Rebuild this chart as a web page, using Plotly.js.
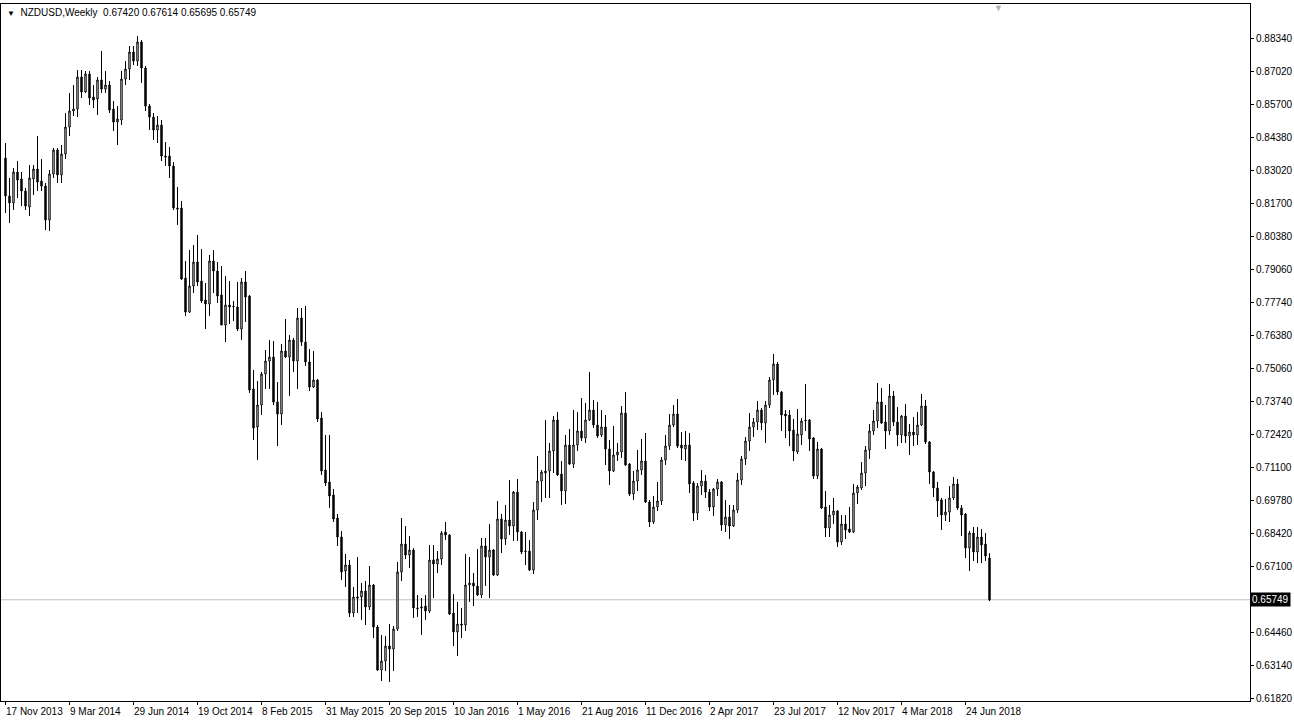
<!DOCTYPE html>
<html>
<head>
<meta charset="utf-8">
<script src="https://cdn.plot.ly/plotly-3.0.1.min.js"></script>
<style>html,body{margin:0;padding:0;background:#fff;}#chart{width:1294px;height:724px;}</style>
</head>
<body>
<div id="chart"></div>
<script>
// Weekly NZDUSD candles, first bar = week of 17 Nov 2013
const symbol = "NZDUSD,Weekly";
const startDate = "2013-11-17";

const openP = [
0.8342,0.8190,0.8162,0.8286,0.8258,0.8210,0.8146,0.8258,0.8298,0.8250,
0.8230,0.8094,0.8278,0.8374,0.8274,0.8358,0.8466,0.8530,0.8538,0.8666,
0.8606,0.8678,0.8586,0.8578,0.8654,0.8618,0.8634,0.8538,0.8486,0.8494,
0.8658,0.8698,0.8766,0.8730,0.8806,0.8702,0.8550,0.8506,0.8454,0.8474,
0.8350,0.8350,0.8310,0.8142,0.8142,0.7862,0.7726,0.7830,0.7926,0.7850,
0.7774,0.7758,0.7930,0.7890,0.7794,0.7674,0.7754,0.7746,0.7746,0.7658,
0.7846,0.7790,0.7418,0.7266,0.7354,0.7478,0.7530,0.7546,0.7366,0.7318,
0.7570,0.7546,0.7614,0.7530,0.7702,0.7606,0.7526,0.7426,0.7454,0.7302,
0.7094,0.7046,0.6994,0.6902,0.6826,0.6690,0.6714,0.6522,0.6586,0.6586,
0.6610,0.6546,0.6634,0.6466,0.6294,0.6330,0.6390,0.6378,0.6458,0.6686,
0.6798,0.6754,0.6774,0.6542,0.6542,0.6550,0.6530,0.6734,0.6718,0.6738,
0.6846,0.6834,0.6522,0.6446,0.6478,0.6474,0.6634,0.6642,0.6630,0.6594,
0.6790,0.6746,0.6774,0.6674,0.6898,0.6818,0.6894,0.6870,0.7006,0.6846,
0.6770,0.6770,0.6694,0.6934,0.7050,0.7082,0.7090,0.7170,0.7294,0.7078,
0.7010,0.7194,0.7118,0.7194,0.7250,0.7222,0.7294,0.7334,0.7274,0.7234,
0.7266,0.7178,0.7090,0.7154,0.7166,0.7322,0.7118,0.6998,0.7050,0.7094,
0.7130,0.6966,0.6886,0.6946,0.6970,0.7134,0.7190,0.7274,0.7318,0.7194,
0.7178,0.7194,0.7042,0.6922,0.7030,0.7050,0.7006,0.6946,0.7018,0.7046,
0.6874,0.6906,0.6870,0.6934,0.7054,0.7138,0.7210,0.7266,0.7286,0.7334,
0.7282,0.7354,0.7454,0.7518,0.7406,0.7318,0.7314,0.7254,0.7166,0.7234,
0.7294,0.7294,0.7222,0.7070,0.7178,0.6946,0.6862,0.6914,0.6930,0.6806,
0.6878,0.6858,0.6846,0.7002,0.7022,0.7082,0.7174,0.7250,0.7290,0.7366,
0.7286,0.7250,0.7390,0.7286,0.7234,0.7310,0.7230,0.7246,0.7234,0.7274,
0.7350,0.7206,0.7086,0.7022,0.6974,0.6914,0.6926,0.6982,0.7038,0.6942,
0.6918,0.6782,0.6842,0.6766,0.6826,0.6798,0.67420];

const highP = [
0.8402,0.8262,0.8302,0.8330,0.8286,0.8222,0.8314,0.8314,0.8430,0.8338,
0.8242,0.8294,0.8382,0.8382,0.8394,0.8522,0.8602,0.8634,0.8694,0.8694,
0.8690,0.8690,0.8634,0.8666,0.8770,0.8690,0.8650,0.8570,0.8550,0.8690,
0.8730,0.8790,0.8790,0.8830,0.8814,0.8710,0.8558,0.8522,0.8510,0.8494,
0.8406,0.8386,0.8326,0.8226,0.8170,0.7930,0.7974,0.7994,0.8034,0.7978,
0.7842,0.7954,0.7974,0.7926,0.7910,0.7870,0.7850,0.7770,0.7846,0.7862,
0.7890,0.7794,0.7494,0.7450,0.7486,0.7574,0.7614,0.7610,0.7446,0.7598,
0.7698,0.7634,0.7622,0.7742,0.7742,0.7750,0.7578,0.7570,0.7458,0.7326,
0.7234,0.7234,0.7018,0.6918,0.6850,0.6758,0.6734,0.6626,0.6746,0.6642,
0.6650,0.6710,0.6638,0.6474,0.6434,0.6430,0.6478,0.6470,0.6726,0.6902,
0.6870,0.6830,0.6782,0.6594,0.6582,0.6594,0.6794,0.6794,0.6770,0.6850,
0.6886,0.6838,0.6598,0.6566,0.6542,0.6758,0.6746,0.6682,0.6778,0.6822,
0.6822,0.6878,0.6778,0.6970,0.6918,0.6954,0.7054,0.7010,0.7058,0.6850,
0.6846,0.6814,0.6966,0.7150,0.7094,0.7294,0.7202,0.7310,0.7326,0.7130,
0.7234,0.7258,0.7334,0.7326,0.7382,0.7362,0.7486,0.7374,0.7366,0.7334,
0.7314,0.7214,0.7270,0.7202,0.7350,0.7406,0.7122,0.7090,0.7174,0.7218,
0.7242,0.6974,0.6990,0.7046,0.7146,0.7234,0.7318,0.7354,0.7378,0.7246,
0.7250,0.7242,0.7050,0.7042,0.7094,0.7074,0.7018,0.7022,0.7058,0.7050,
0.6974,0.6954,0.6954,0.7082,0.7150,0.7226,0.7322,0.7302,0.7370,0.7342,
0.7370,0.7466,0.7558,0.7526,0.7410,0.7334,0.7334,0.7298,0.7338,0.7302,
0.7438,0.7298,0.7226,0.7206,0.7182,0.7010,0.6954,0.6982,0.6934,0.6914,
0.6914,0.6946,0.7038,0.7034,0.7126,0.7190,0.7278,0.7334,0.7442,0.7422,
0.7354,0.7438,0.7410,0.7346,0.7314,0.7358,0.7278,0.7306,0.7326,0.7398,
0.7374,0.7210,0.7090,0.7046,0.6982,0.6978,0.7030,0.7066,0.7058,0.6954,
0.6922,0.6850,0.6866,0.6866,0.6858,0.6842,0.67614];

const lowP = [
0.8122,0.8082,0.8134,0.8182,0.8150,0.8134,0.8110,0.8194,0.8210,0.8210,
0.8054,0.8050,0.8262,0.8242,0.8242,0.8338,0.8430,0.8510,0.8506,0.8582,
0.8602,0.8554,0.8542,0.8514,0.8602,0.8602,0.8522,0.8450,0.8394,0.8474,
0.8634,0.8654,0.8714,0.8710,0.8642,0.8530,0.8454,0.8414,0.8402,0.8330,
0.8310,0.8262,0.8134,0.8074,0.7854,0.7710,0.7722,0.7802,0.7830,0.7762,
0.7658,0.7710,0.7802,0.7762,0.7674,0.7606,0.7678,0.7690,0.7650,0.7614,
0.7686,0.7402,0.7214,0.7134,0.7314,0.7418,0.7418,0.7354,0.7190,0.7274,
0.7542,0.7390,0.7486,0.7418,0.7590,0.7510,0.7410,0.7422,0.7286,0.7074,
0.7030,0.6942,0.6886,0.6790,0.6654,0.6626,0.6506,0.6506,0.6522,0.6494,
0.6474,0.6534,0.6422,0.6290,0.6250,0.6290,0.6246,0.6290,0.6450,0.6650,
0.6738,0.6702,0.6502,0.6506,0.6434,0.6494,0.6522,0.6582,0.6682,0.6714,
0.6814,0.6514,0.6390,0.6350,0.6422,0.6450,0.6566,0.6550,0.6590,0.6582,
0.6630,0.6582,0.6670,0.6670,0.6762,0.6794,0.6834,0.6810,0.6810,0.6758,
0.6714,0.6690,0.6678,0.6894,0.6966,0.6982,0.6982,0.7082,0.7070,0.6954,
0.6958,0.7114,0.7102,0.7170,0.7210,0.7202,0.7290,0.7262,0.7222,0.7226,
0.7114,0.7034,0.7086,0.7130,0.7142,0.7110,0.6990,0.6974,0.7010,0.7074,
0.6962,0.6866,0.6878,0.6930,0.6954,0.7114,0.7174,0.7266,0.7182,0.7134,
0.7130,0.7002,0.6890,0.6894,0.6994,0.6982,0.6930,0.6910,0.6990,0.6850,
0.6846,0.6818,0.6866,0.6922,0.7034,0.7114,0.7170,0.7226,0.7254,0.7254,
0.7202,0.7342,0.7394,0.7394,0.7250,0.7222,0.7190,0.7130,0.7158,0.7194,
0.7250,0.7170,0.7058,0.7058,0.6938,0.6826,0.6826,0.6878,0.6786,0.6794,
0.6818,0.6842,0.6842,0.6958,0.7014,0.7030,0.7138,0.7234,0.7262,0.7278,
0.7178,0.7234,0.7270,0.7190,0.7202,0.7202,0.7154,0.7190,0.7194,0.7270,
0.7198,0.7038,0.6986,0.6906,0.6854,0.6890,0.6886,0.6974,0.6934,0.6830,
0.6742,0.6690,0.6730,0.6722,0.6722,0.6730,0.65695];

const closeP = [
0.8190,0.8162,0.8286,0.8254,0.8210,0.8150,0.8262,0.8298,0.8246,0.8230,
0.8094,0.8278,0.8374,0.8274,0.8358,0.8466,0.8530,0.8538,0.8666,0.8606,
0.8678,0.8582,0.8574,0.8654,0.8618,0.8634,0.8534,0.8486,0.8498,0.8658,
0.8698,0.8766,0.8730,0.8806,0.8702,0.8550,0.8506,0.8454,0.8474,0.8350,
0.8346,0.8310,0.8142,0.8138,0.7858,0.7726,0.7830,0.7926,0.7846,0.7770,
0.7758,0.7930,0.7890,0.7790,0.7674,0.7754,0.7746,0.7748,0.7658,0.7846,
0.7786,0.7414,0.7262,0.7354,0.7478,0.7530,0.7546,0.7366,0.7318,0.7570,
0.7546,0.7614,0.7530,0.7702,0.7606,0.7526,0.7426,0.7454,0.7298,0.7090,
0.7042,0.6990,0.6898,0.6826,0.6686,0.6714,0.6522,0.6586,0.6582,0.6610,
0.6546,0.6634,0.6466,0.6294,0.6330,0.6390,0.6378,0.6458,0.6686,0.6798,
0.6754,0.6774,0.6542,0.6540,0.6546,0.6530,0.6734,0.6718,0.6738,0.6842,
0.6834,0.6518,0.6446,0.6478,0.6474,0.6634,0.6642,0.6630,0.6594,0.6790,
0.6746,0.6774,0.6674,0.6898,0.6818,0.6894,0.6870,0.7006,0.6846,0.6766,
0.6768,0.6694,0.6934,0.7050,0.7086,0.7090,0.7170,0.7294,0.7074,0.7010,
0.7194,0.7118,0.7194,0.7250,0.7222,0.7294,0.7334,0.7274,0.7230,0.7266,
0.7178,0.7090,0.7154,0.7166,0.7322,0.7114,0.6998,0.7050,0.7094,0.7130,
0.6966,0.6886,0.6946,0.6970,0.7134,0.7190,0.7274,0.7318,0.7190,0.7182,
0.7194,0.7038,0.6922,0.7030,0.7050,0.7006,0.6946,0.7018,0.7046,0.6874,
0.6906,0.6870,0.6934,0.7054,0.7138,0.7210,0.7266,0.7286,0.7334,0.7282,
0.7354,0.7454,0.7518,0.7406,0.7314,0.7310,0.7250,0.7170,0.7238,0.7290,
0.7292,0.7218,0.7070,0.7178,0.6942,0.6862,0.6914,0.6930,0.6806,0.6878,
0.6854,0.6846,0.7002,0.7026,0.7082,0.7174,0.7250,0.7290,0.7366,0.7282,
0.7250,0.7390,0.7286,0.7234,0.7310,0.7230,0.7246,0.7234,0.7274,0.7350,
0.7206,0.7086,0.7022,0.6970,0.6914,0.6926,0.6982,0.7038,0.6942,0.6914,
0.6782,0.6842,0.6766,0.6826,0.6794,0.6750,0.65749];

// x-axis labels (every 16 weeks) and their bar indices
const xLabelIdx = [0,16,32,48,64,80,96,112,128,144,160,176,192,208,224,240];
const xLabels = ["17 Nov 2013","9 Mar 2014","29 Jun 2014","19 Oct 2014","8 Feb 2015","31 May 2015",
  "20 Sep 2015","10 Jan 2016","1 May 2016","21 Aug 2016","11 Dec 2016","2 Apr 2017",
  "23 Jul 2017","12 Nov 2017","4 Mar 2018","24 Jun 2018"];

// y-axis price grid (evenly spaced) and the labels printed beside it
const yTicks = [0.61820,0.63140,0.64460,0.65780,0.67100,0.68420,0.69740,0.71060,0.72380,0.73700,
  0.75020,0.76340,0.77660,0.78980,0.80300,0.81620,0.82940,0.84260,0.85580,0.86900,0.88220];
const yTickText = ["0.61820","0.63140","0.64460","","0.67100","0.68420","0.69780","0.71100","0.72420","0.73740",
  "0.75060","0.76380","0.77740","0.79060","0.80380","0.81700","0.83020","0.84380","0.85700","0.87020","0.88340"];

const headerValues = ["0.67420","0.67614","0.65695","0.65749"];
const lastPrice = 0.65749;

const idx = openP.map((_, i) => i);
const months = ["Jan","Feb","Mar","Apr","May","Jun","Jul","Aug","Sep","Oct","Nov","Dec"];
const t0 = Date.parse(startDate + "T00:00:00Z");
const dates = idx.map(i => { const d = new Date(t0 + i*7*86400000); return d.getUTCDate()+" "+months[d.getUTCMonth()]+" "+d.getUTCFullYear(); });

const FONT = "Liberation Sans, Arial, sans-serif";

const trace = {
  type: "candlestick",
  x: idx, open: openP, high: highP, low: lowP, close: closeP,
  text: dates, hoverinfo: "text+y",
  increasing: {line: {color: "#000000", width: 1}, fillcolor: "#ffffff"},
  decreasing: {line: {color: "#000000", width: 1}, fillcolor: "#000000"},
  whiskerwidth: 0, showlegend: false
};

const annotations = xLabels.map((t, k) => ({
  x: xLabelIdx[k], xref: "x", y: 0, yref: "paper", yanchor: "top", xanchor: "left",
  text: t, showarrow: false, yshift: -3, xshift: -2,
  font: {family: FONT, size: 10, color: "#000"}
}));
annotations.push({
  x: 0, xref: "paper", y: 1, yref: "paper", xanchor: "left", yanchor: "top",
  xshift: 4, yshift: -1, showarrow: false,
  text: '<span style="font-size:8px">▼</span>  ' + symbol + '  ' + headerValues.join(' '),
  font: {family: FONT, size: 10, color: "#000"}
});
annotations.push({
  x: 1, xref: "paper", y: lastPrice, yref: "y", xanchor: "left", yanchor: "middle",
  text: lastPrice.toFixed(5), showarrow: false, bgcolor: "#000000", borderpad: 1, xshift: 0,
  font: {family: FONT, size: 10, color: "#ffffff"}
});
annotations.push({
  x: 248.3, xref: "x", y: 1, yref: "paper", xanchor: "center", yanchor: "top", yshift: 3,
  text: "▼", showarrow: false, font: {family: FONT, size: 9, color: "#b0b0b0"}
});

const layout = {
  width: 1294, height: 724,
  margin: {l: 1, r: 44, t: 4, b: 23, pad: 0},
  paper_bgcolor: "#ffffff", plot_bgcolor: "#ffffff",
  font: {family: FONT, size: 10, color: "#000"},
  boxgap: 0.5,
  xaxis: {
    range: [-1.125, 311.125], fixedrange: true,
    rangeslider: {visible: false},
    showgrid: false, zeroline: false,
    showline: true, mirror: true, linecolor: "#000", linewidth: 1,
    tickmode: "array", tickvals: xLabelIdx, ticks: "outside", ticklen: 3, tickcolor: "#000",
    showticklabels: false
  },
  yaxis: {
    range: [0.6170, 0.8958], fixedrange: true, side: "right",
    showgrid: false, zeroline: false,
    showline: true, mirror: true, linecolor: "#000", linewidth: 1,
    tickmode: "array", tickvals: yTicks, ticktext: yTickText,
    ticks: "outside", ticklen: 3, tickcolor: "#000",
    tickfont: {family: FONT, size: 10, color: "#000"}
  },
  shapes: [{type: "line", xref: "paper", x0: 0, x1: 1, yref: "y", y0: lastPrice, y1: lastPrice,
            line: {color: "#c0c0c0", width: 1}, layer: "below"}],
  annotations: annotations,
  hovermode: "closest"
};

Plotly.newPlot("chart", [trace], layout, {displayModeBar: false});
</script>
</body>
</html>
